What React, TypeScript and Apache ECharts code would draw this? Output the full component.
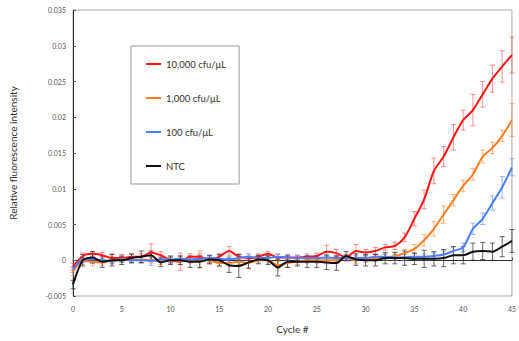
import React, { useEffect, useRef } from "react";
import * as echarts from "echarts";

const cycles: number[] = Array.from({ length: 46 }, (_, i) => i);

const seriesNames = ["10,000 cfu/μL", "1,000 cfu/μL", "100 cfu/μL", "NTC"];

const red10000: number[] = [
  -0.0009, 0.0006, 0.0009, 0.0007, 0.0003, 0.0003, 0.0005, 0.0005, 0.0011, 0.0007,
  0.0, -0.0002, 0.0005, 0.0005, 0.0, 0.0005, 0.0013, 0.0005, 0.0003, 0.0005,
  0.0009, 0.0004, 0.0004, 0.0004, 0.0005, 0.0006, 0.0012, 0.001, 0.0004, 0.0013,
  0.0011, 0.0013, 0.0018, 0.002, 0.0032, 0.0058, 0.0085, 0.0125, 0.0145, 0.0172,
  0.0196, 0.021, 0.0232, 0.0254, 0.0271, 0.0287,
];
const redErr: number[] = [
  0.0005, 0.0004, 0.0003, 0.0004, 0.0006, 0.0005, 0.0003, 0.0004, 0.0012, 0.0005,
  0.0004, 0.0012, 0.0004, 0.0004, 0.0003, 0.0004, 0.0006, 0.0004, 0.0003, 0.0004,
  0.0003, 0.0004, 0.0003, 0.0003, 0.0004, 0.0004, 0.0009, 0.0005, 0.0004, 0.0009,
  0.0004, 0.0005, 0.0004, 0.0005, 0.0006, 0.001, 0.0013, 0.0018, 0.0014, 0.0018,
  0.0014, 0.0022, 0.0018, 0.0019, 0.0022, 0.0025,
];

const orange1000: number[] = [
  -0.0016, -0.0001, -0.0002, -0.0003, 0.0, 0.0001, 0.0, 0.0001, 0.0, -0.0001,
  0.0, -0.0001, 0.0, 0.0001, 0.0, -0.0004, -0.0004, -0.0002, -0.0004, 0.0,
  0.0, -0.0007, -0.0004, -0.0002, 0.0, 0.0, 0.0, 0.0, 0.0003, 0.0,
  0.0001, 0.0002, 0.0004, 0.0006, 0.001, 0.0016, 0.0028, 0.0044, 0.0064, 0.0084,
  0.0104, 0.012, 0.0145, 0.0157, 0.0174, 0.0196,
];
const orangeErr: number[] = [
  0.0005, 0.0005, 0.0006, 0.0004, 0.0005, 0.0004, 0.0004, 0.0005, 0.0004, 0.0005,
  0.0004, 0.0005, 0.0004, 0.0012, 0.0005, 0.0004, 0.0005, 0.0004, 0.0008, 0.0004,
  0.0004, 0.0005, 0.0006, 0.0004, 0.0004, 0.0004, 0.0005, 0.0004, 0.0004, 0.0004,
  0.0004, 0.0004, 0.0004, 0.0005, 0.0005, 0.0006, 0.0008, 0.001, 0.0012, 0.0008,
  0.0008, 0.0008, 0.0009, 0.0008, 0.0008, 0.0023,
];

const blue100: number[] = [
  -0.0013, 0.0001, 0.0001, 0.0, -0.0001, 0.0001, 0.0, 0.0, -0.0001, 0.0001,
  0.0001, 0.0002, 0.0001, 0.0002, 0.0003, 0.0002, 0.0001, 0.0003, 0.0005, 0.0003,
  0.0003, 0.0005, 0.0004, 0.0003, 0.0003, 0.0003, 0.0004, 0.0003, 0.0003, 0.0003,
  0.0003, 0.0005, 0.0005, 0.0004, 0.0004, 0.0005, 0.0005, 0.0006, 0.0008, 0.0013,
  0.0018, 0.0044, 0.0058, 0.008, 0.0102, 0.013,
];
const blueErr: number[] = [
  0.0004, 0.0004, 0.0004, 0.0003, 0.0004, 0.0004, 0.0004, 0.0004, 0.0006, 0.0004,
  0.0004, 0.0004, 0.0004, 0.0004, 0.0004, 0.0004, 0.0004, 0.0004, 0.0004, 0.0004,
  0.0004, 0.0004, 0.0004, 0.0004, 0.0004, 0.0004, 0.0004, 0.0004, 0.0004, 0.0004,
  0.0004, 0.0004, 0.0004, 0.0004, 0.0004, 0.0004, 0.0004, 0.0004, 0.0005, 0.0006,
  0.0006, 0.0008, 0.0008, 0.001, 0.0015, 0.0012,
];

const blackNTC: number[] = [
  -0.0034, 0.0, 0.0004, -0.0002, 0.0, 0.0, 0.0003, 0.0005, 0.0007, -0.0003,
  0.0, 0.0, -0.0002, -0.0002, 0.0001, 0.0, -0.0007, -0.0008, -0.0003, 0.0001,
  0.0, -0.001, -0.0002, -0.0002, -0.0002, -0.0002, -0.0003, -0.0004, 0.0006, 0.0001,
  0.0, 0.0, 0.0003, 0.0003, 0.0003, 0.0002, 0.0002, 0.0002, 0.0003, 0.0007,
  0.0007, 0.0012, 0.0013, 0.0012, 0.0019, 0.0027,
];
const blackErr: number[] = [
  0.0006, 0.0008, 0.0008, 0.0008, 0.0008, 0.0006, 0.0006, 0.0008, 0.0006, 0.0006,
  0.0006, 0.0006, 0.0008, 0.0008, 0.0006, 0.0008, 0.001, 0.0016, 0.0008, 0.0006,
  0.0006, 0.0012, 0.0008, 0.0006, 0.0008, 0.0008, 0.001, 0.001, 0.0006, 0.0008,
  0.0008, 0.0008, 0.0008, 0.0008, 0.001, 0.0008, 0.0012, 0.001, 0.0012, 0.0012,
  0.0012, 0.0012, 0.0012, 0.0012, 0.0014, 0.0016,
];

const yTicks = { min: -0.005, max: 0.035, interval: 0.005 };
const xTicks = { min: 0, max: 45, interval: 5 };

const FONT = "Lato, 'Liberation Sans', sans-serif";

const lineColors = ["#FF1414", "#FF7F1E", "#4A7DFF", "#111111"];
const errColors = [
  "rgba(255,70,70,0.6)",
  "rgba(255,140,60,0.65)",
  "rgba(90,130,255,0.6)",
  "rgba(40,40,40,0.7)",
];

export default function App() {
  const ref = useRef<HTMLDivElement>(null);
  useEffect(() => {
    if (!ref.current) return;
    const chart = echarts.init(ref.current, null, { renderer: "svg" });
    const values = [red10000, orange1000, blue100, blackNTC];
    const errs = [redErr, orangeErr, blueErr, blackErr];

    const errSeries = values.map((vals, si) => ({
      type: "custom",
      name: "err" + si,
      silent: true,
      z: 1,
      data: cycles.map((c, i) => [c, vals[i], errs[si][i]]),
      encode: { x: 0, y: 1 },
      renderItem: (params: any, api: any) => {
        const x = api.value(0);
        const y = api.value(1);
        const e = api.value(2);
        const top = api.coord([x, y + e]);
        const bot = api.coord([x, y - e]);
        const hw = 2.5;
        const style = { stroke: errColors[si], lineWidth: 1 };
        return {
          type: "group",
          children: [
            { type: "line", shape: { x1: top[0], y1: top[1], x2: bot[0], y2: bot[1] }, style },
            { type: "line", shape: { x1: top[0] - hw, y1: top[1], x2: top[0] + hw, y2: top[1] }, style },
            { type: "line", shape: { x1: bot[0] - hw, y1: bot[1], x2: bot[0] + hw, y2: bot[1] }, style },
          ],
        };
      },
    }));

    const lineSeries = values.map((vals, si) => ({
      type: "line",
      name: seriesNames[si],
      z: 3 + si,
      data: cycles.map((c, i) => [c, vals[i]]),
      showSymbol: false,
      smooth: 0.25,
      color: lineColors[si],
      lineStyle: { width: 2, color: lineColors[si] },
    }));

    chart.setOption({
      animation: false,
      textStyle: { fontFamily: FONT },
      grid: {
        left: 71,
        right: 3,
        top: 10,
        bottom: 45,
        show: true,
        borderColor: "#aaaaaa",
        borderWidth: 1,
      },
      legend: {
        data: seriesNames,
        orient: "vertical",
        left: 131,
        top: 46,
        icon: "rect",
        itemWidth: 15,
        itemHeight: 2,
        itemGap: 24,
        padding: [13, 13, 13, 15],
        borderColor: "#999999",
        borderWidth: 1,
        backgroundColor: "#ffffff",
        textStyle: { fontSize: 9.5, color: "#333333", fontFamily: FONT, lineHeight: 10 },
      },
      xAxis: {
        type: "value",
        min: xTicks.min,
        max: xTicks.max,
        interval: xTicks.interval,
        name: "Cycle #",
        nameLocation: "middle",
        nameGap: 28,
        nameTextStyle: { fontSize: 10, color: "#333333", fontFamily: FONT },
        axisLine: { show: true, lineStyle: { color: "#333333", width: 1 } },
        axisTick: { show: true, inside: true, length: 3, lineStyle: { color: "#555555" } },
        axisLabel: { fontSize: 7, color: "#555555", margin: 9, fontFamily: FONT },
        splitLine: { show: false },
      },
      yAxis: {
        type: "value",
        min: yTicks.min,
        max: yTicks.max,
        interval: yTicks.interval,
        name: "Relative fluorescence intensity",
        nameLocation: "middle",
        nameGap: 55,
        nameTextStyle: { fontSize: 10, color: "#333333", fontFamily: FONT },
        axisLine: { show: true, lineStyle: { color: "#333333", width: 1 } },
        axisTick: { show: true, inside: true, length: 3, lineStyle: { color: "#555555" } },
        axisLabel: {
          fontSize: 7,
          color: "#555555",
          margin: 7,
          fontFamily: FONT,
          formatter: (v: number) => String(+v.toFixed(3)),
        },
        splitLine: { show: false },
      },
      series: [...errSeries, ...lineSeries],
    });
    return () => chart.dispose();
  }, []);
  return (
    <div
      ref={ref}
      style={{ position: "fixed", left: 0, top: 0, width: 519, height: 341, background: "#fff" }}
    />
  );
}
